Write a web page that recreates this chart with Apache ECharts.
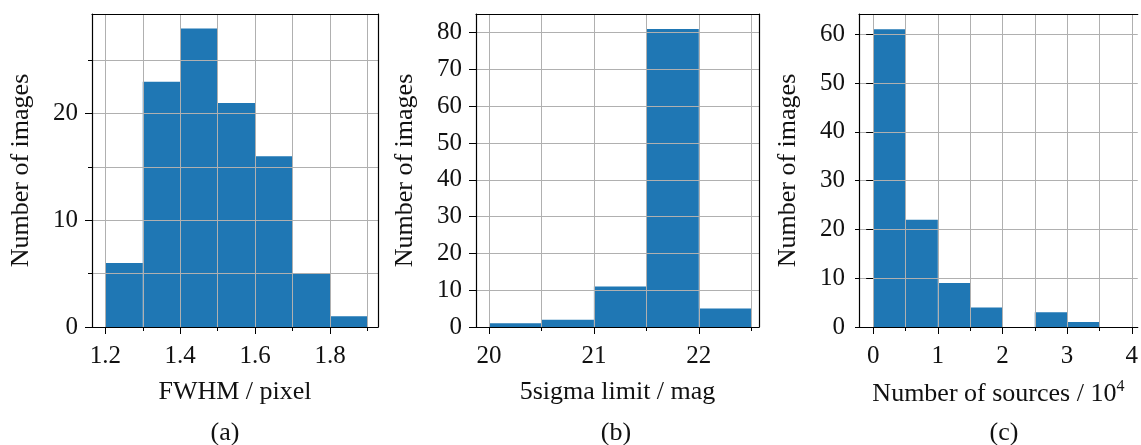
<!DOCTYPE html>
<html>
<head>
<meta charset="utf-8">
<script src="https://cdn.jsdelivr.net/npm/echarts@6/dist/echarts.min.js"></script>
<style>
  html, body { margin: 0; padding: 0; background: #fff; }
  #chart { width: 1141px; height: 445px; }
</style>
</head>
<body>
<div id="chart"></div>
<script>
// (a) FWHM histogram
const fwhmEdges  = [1.2, 1.3, 1.4, 1.5, 1.6, 1.7, 1.8, 1.9];
const fwhmCounts = [6, 23, 28, 21, 16, 5, 1];
const fwhmTicks  = [1.2, 1.4, 1.6, 1.8];
const fwhmMinor  = [1.3, 1.5, 1.7, 1.9];
const fwhmYTicks = [0, 10, 20];
const fwhmYMinor = [5, 15, 25];

// (b) 5-sigma limiting magnitude histogram
const limitEdges  = [20.0, 20.5, 21.0, 21.5, 22.0, 22.5];
const limitCounts = [1, 2, 11, 81, 5];
const limitTicks  = [20, 21, 22];
const limitMinor  = [20.5, 21.5, 22.5];
const limitYTicks = [0, 10, 20, 30, 40, 50, 60, 70, 80];

// (c) number of sources histogram (units of 10^4)
const srcEdges  = [0, 0.5, 1.0, 1.5, 2.0, 2.5, 3.0, 3.5];
const srcCounts = [61, 22, 9, 4, 0, 3, 1];
const srcTicks  = [0, 1, 2, 3, 4];
const srcMinor  = [0.5, 1.5, 2.5, 3.5];
const srcYTicks = [0, 10, 20, 30, 40, 50, 60];

const BAR = '#1f77b4';
const GRIDC = '#b0b0b0';
const FONT = '"Liberation Serif", "DejaVu Serif", serif';
const TICK_FS = 25;
const NAME_FS = 26;

const panels = [
  { edges: fwhmEdges, counts: fwhmCounts, xTicks: fwhmTicks, xMinor: fwhmMinor,
    yTicks: fwhmYTicks, yMinor: fwhmYMinor, xFmt: v => v.toFixed(1),
    xMin: 1.1645, xMax: 1.928, yMax: 29.35, rightSpine: true,
    rect: { left: 92, top: 14, width: 286, height: 313 },
    xName: 'FWHM / pixel', caption: '(a)', capX: 225 },
  { edges: limitEdges, counts: limitCounts, xTicks: limitTicks, xMinor: limitMinor,
    yTicks: limitYTicks, yMinor: [], xFmt: v => String(v),
    xMin: 19.876, xMax: 22.574, yMax: 85.05, rightSpine: true,
    rect: { left: 476, top: 14, width: 283, height: 313 },
    xName: '5sigma limit / mag', caption: '(b)', capX: 616 },
  { edges: srcEdges, counts: srcCounts, xTicks: srcTicks, xMinor: srcMinor,
    yTicks: srcYTicks, yMinor: [], xFmt: v => String(v),
    xMin: -0.219, xMax: 4.093, yMax: 64.15, rightSpine: false,
    rect: { left: 859, top: 14, width: 282, height: 313 },
    xName: 'Number of sources / 10{sup|4}', caption: '(c)', capX: 1004 }
];

const grids = [], xAxes = [], yAxes = [], series = [], titles = [];
const spine = { show: true, onZero: false, lineStyle: { color: '#000', width: 1.2 } };
const textBase = { color: '#111', fontFamily: FONT };

panels.forEach((p, i) => {
  grids.push(Object.assign({ show: false }, p.rect));

  const xAll = p.xTicks.concat(p.xMinor).sort((a, b) => a - b);
  const yAll = p.yTicks.concat(p.yMinor).sort((a, b) => a - b);

  // bottom spine, grid lines and minor ticks
  const xMainIdx = xAxes.length;
  xAxes.push({
    type: 'value', gridIndex: i, position: 'bottom', min: p.xMin, max: p.xMax, z: 5,
    axisLine: spine,
    axisTick: { show: true, customValues: xAll, length: 4, lineStyle: { color: '#000', width: 1 } },
    axisLabel: { show: false },
    splitLine: { show: true, lineStyle: { color: GRIDC, width: 1 } }
  });
  // major ticks, tick labels and axis title
  xAxes.push({
    type: 'value', gridIndex: i, position: 'bottom', min: p.xMin, max: p.xMax, z: 5,
    axisLine: { show: false },
    axisTick: { show: true, customValues: p.xTicks, length: 7, lineStyle: { color: '#000', width: 1 } },
    axisLabel: Object.assign({ show: true, customValues: p.xTicks, formatter: p.xFmt, margin: 17,
                 fontSize: TICK_FS }, textBase),
    splitLine: { show: false },
    name: p.xName, nameLocation: 'middle', nameGap: 52,
    nameTextStyle: Object.assign({ fontSize: NAME_FS,
      rich: { sup: Object.assign({ fontSize: 16, verticalAlign: 'top', padding: [0, 0, 14, 0] }, textBase) } }, textBase)
  });
  // top spine
  xAxes.push({
    type: 'value', gridIndex: i, position: 'top', min: p.xMin, max: p.xMax, z: 5,
    axisLine: spine, axisTick: { show: false }, axisLabel: { show: false }, splitLine: { show: false }
  });

  // left spine, grid lines and minor ticks
  const yMainIdx = yAxes.length;
  yAxes.push({
    type: 'value', gridIndex: i, position: 'left', min: 0, max: p.yMax, z: 5,
    axisLine: spine,
    axisTick: { show: true, customValues: yAll, length: 4, lineStyle: { color: '#000', width: 1 } },
    axisLabel: { show: false },
    splitLine: { show: true, lineStyle: { color: GRIDC, width: 1 } }
  });
  yAxes.push({
    type: 'value', gridIndex: i, position: 'left', min: 0, max: p.yMax, z: 5,
    axisLine: { show: false },
    axisTick: { show: true, customValues: p.yTicks, length: 7, lineStyle: { color: '#000', width: 1 } },
    axisLabel: Object.assign({ show: true, customValues: p.yTicks, margin: 14, fontSize: TICK_FS }, textBase),
    splitLine: { show: false },
    name: 'Number of images', nameLocation: 'middle', nameGap: 58, nameRotate: 90,
    nameTextStyle: Object.assign({ fontSize: NAME_FS }, textBase)
  });
  // right spine
  yAxes.push({
    type: 'value', gridIndex: i, position: 'right', min: 0, max: p.yMax, z: 5,
    axisLine: Object.assign({}, spine, { show: p.rightSpine }),
    axisTick: { show: false }, axisLabel: { show: false }, splitLine: { show: false }
  });

  const data = p.counts.map((c, k) => [p.edges[k], p.edges[k + 1], c]);
  series.push({
    type: 'custom', xAxisIndex: xMainIdx, yAxisIndex: yMainIdx, z: 1,
    encode: { x: [0, 1], y: 2 },
    data: data,
    renderItem: function (params, api) {
      const topLeft = api.coord([api.value(0), api.value(2)]);
      const botRight = api.coord([api.value(1), 0]);
      return {
        type: 'rect',
        shape: { x: topLeft[0], y: topLeft[1], width: botRight[0] - topLeft[0], height: botRight[1] - topLeft[1] },
        style: { fill: BAR }
      };
    }
  });

  titles.push({
    text: p.caption, left: p.capX, top: 420, textAlign: 'center', padding: 0,
    textStyle: Object.assign({ fontSize: NAME_FS, fontWeight: 'normal' }, textBase)
  });
});

const chart = echarts.init(document.getElementById('chart'), null, { renderer: 'canvas' });
chart.setOption({
  animation: false,
  backgroundColor: '#fff',
  title: titles,
  grid: grids,
  xAxis: xAxes,
  yAxis: yAxes,
  series: series
});
</script>
</body>
</html>
